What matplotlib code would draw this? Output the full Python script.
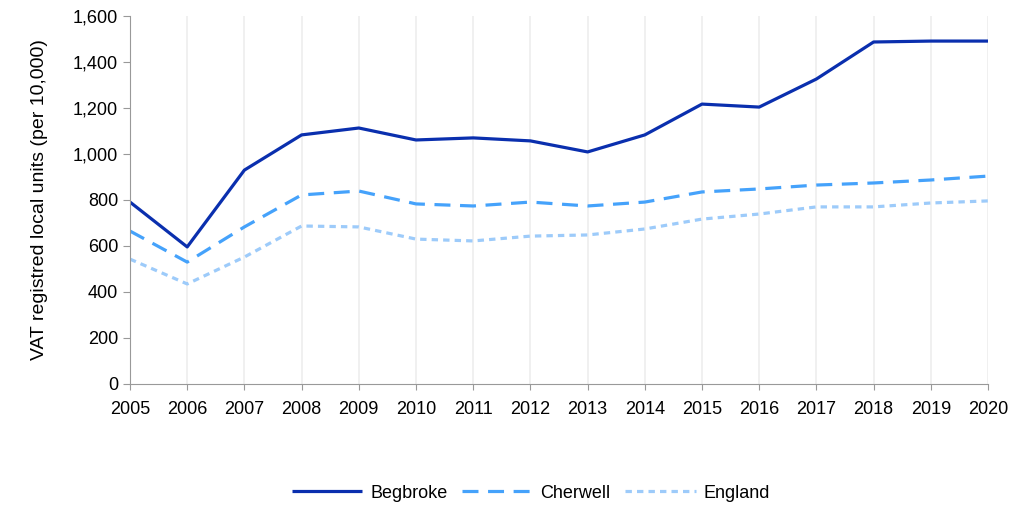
from matplotlib import pyplot as plt
from matplotlib.ticker import FuncFormatter

plt.rcParams['font.family'] = ['Liberation Sans', 'DejaVu Sans']
plt.rcParams['font.size'] = 13

years = list(range(2005, 2021))

begbroke = [791, 596, 930, 1083, 1113, 1061, 1070, 1057, 1009, 1083,
            1217, 1204, 1326, 1487, 1491, 1491]
cherwell = [665, 530, 683, 822, 839, 783, 774, 791, 774, 791,
            835, 848, 865, 874, 887, 904]
england = [543, 435, 552, 687, 683, 630, 622, 643, 648, 674,
           717, 739, 770, 770, 787, 796]

fig = plt.figure(figsize=(10.27, 5.05), dpi=100)
ax = fig.add_axes([130/1027, 1 - 384/505, 858/1027, 368/505])

ax.plot(years, begbroke, color='#0a2fae', lw=2.3, label='Begbroke',
        solid_capstyle='butt')
ax.plot(years, cherwell, color='#45a2fb', lw=2.3, dashes=(5, 3),
        label='Cherwell')
ax.plot(years, england, color='#9dcbfa', lw=2.3, dashes=(2, 1.6),
        label='England')

ax.set_xlim(2005, 2020)
ax.set_ylim(0, 1600)
ax.set_xticks(years)
ax.set_yticks(range(0, 1601, 200))
ax.yaxis.set_major_formatter(FuncFormatter(lambda v, p: f'{int(v):,}'))

ax.grid(axis='x', color='#eeeeee', lw=1.2)
ax.set_axisbelow(True)
for side in ['top', 'right']:
    ax.spines[side].set_visible(False)
for side in ['left', 'bottom']:
    ax.spines[side].set_color('#999999')
ax.tick_params(axis='both', colors='#999999', labelcolor='black', length=5)
ax.tick_params(axis='x', pad=8, length=4)

ax.set_ylabel('VAT registred local units (per 10,000)', fontsize=14, labelpad=18)

fig.legend(loc='center', bbox_to_anchor=(0.517, 1 - 493/505), ncol=3,
           frameon=False, handlelength=3.9, columnspacing=0.8,
           handletextpad=0.45, fontsize=13)

plt.savefig('out.png', dpi=100)
